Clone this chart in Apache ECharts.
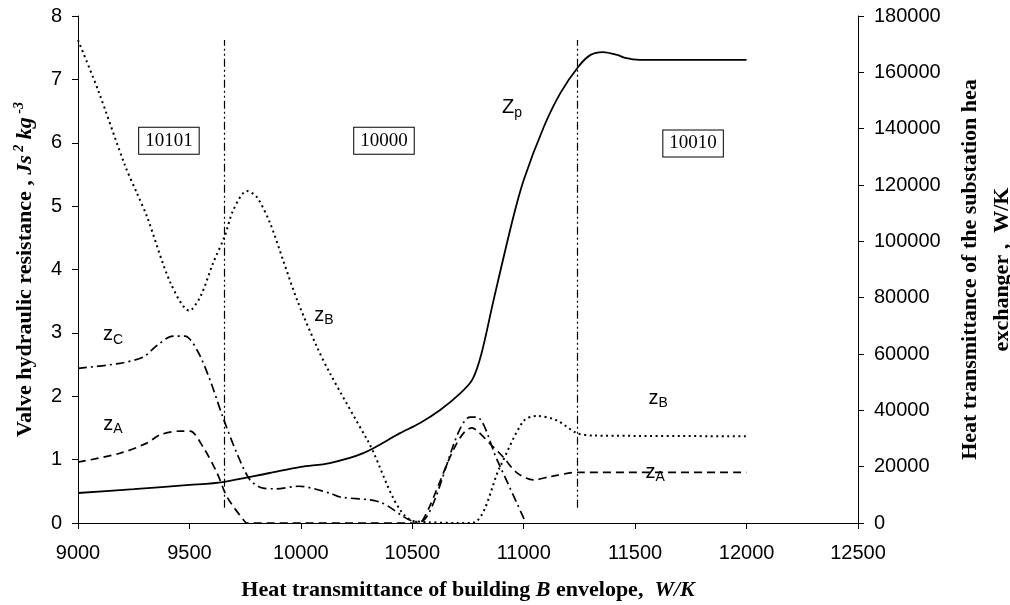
<!DOCTYPE html>
<html>
<head>
<meta charset="utf-8">
<script src="https://cdn.jsdelivr.net/npm/echarts@6/dist/echarts.min.js"></script>
<style>
  html, body { margin: 0; background: #fff; }
  #main { width: 1010px; height: 605px; }
</style>
</head>
<body>
<div id="main"></div>
<script>
// building B envelope heat transmittance, W/K (x) vs valve resistance (left) / exchanger transmittance (right)
const zpData = [
  [9000, 10650], [9250, 12000], [9500, 13500], [9650, 14550], [9860, 17750],
  [10000, 19900], [10130, 21300], [10280, 24800], [10445, 31900], [10535, 35500],
  [10625, 40100], [10715, 46000], [10770, 51000], [10810, 60000], [10865, 79200],
  [10950, 107600], [11000, 121800], [11090, 140600], [11165, 152700], [11245, 162000],
  [11300, 166200], [11355, 167200], [11420, 166200], [11455, 165100], [11520, 164400],
  [12000, 164400]
];
const zbData = [
  [9000, 7.62], [9090, 6.83], [9210, 5.65], [9265, 5.2], [9310, 4.83],
  [9415, 3.79], [9500, 3.35], [9550, 3.58], [9606, 4.1], [9660, 4.54],
  [9697, 4.94], [9758, 5.24], [9803, 5.14], [9862, 4.73], [9920, 4.15],
  [9983, 3.52], [10072, 2.78], [10131, 2.36], [10300, 1.3], [10508, 0.03],
  [10767, 0], [10893, 0.88], [10997, 1.6], [11058, 1.69], [11148, 1.62],
  [11238, 1.42], [11312, 1.38], [12000, 1.37]
];
const zcData = [
  [9000, 2.44], [9188, 2.52], [9293, 2.62], [9354, 2.8], [9426, 2.95],
  [9480, 2.95], [9534, 2.73], [9592, 2.26], [9650, 1.67], [9713, 1.1],
  [9772, 0.68], [9830, 0.55], [9890, 0.54], [9990, 0.58], [10131, 0.47],
  [10176, 0.41], [10355, 0.33], [10500, 0.03], [10535, 0.02], [10760, 1.67],
  [10790, 1.67], [10880, 1.0], [11006, 0.03]
];
const zaData = [
  [9000, 0.96], [9188, 1.1], [9309, 1.26], [9368, 1.39], [9458, 1.45],
  [9503, 1.45], [9561, 1.2], [9624, 0.79], [9669, 0.41], [9749, 0.02],
  [9760, 0], [10520, 0], [10543, 0.02], [10768, 1.5], [10863, 1.2],
  [10908, 1.04], [10970, 0.79], [11043, 0.68], [11118, 0.73], [11244, 0.8],
  [12000, 0.8]
];
// regime boundaries (x) and regime codes
const boundaryX = [9655, 11240];
const regimeNames = ["10101", "10000", "10010"];

const chart = echarts.init(document.getElementById("main"));

const sansFont = "Liberation Sans";
const serifFont = "Liberation Serif";

// label style for the curve names, z with a subscript
const noteLabel = {
  show: true,
  position: "inside",
  color: "#000",
  rich: {
    z: { fontFamily: sansFont, fontSize: 20, lineHeight: 24, color: "#000" },
    s: { fontFamily: sansFont, fontSize: 14, lineHeight: 14, verticalAlign: "bottom", color: "#000" }
  }
};
const note = (coord, main, sub) => ({
  coord: coord,
  label: { ...noteLabel, formatter: "{z|" + main + "}{s|" + sub + "}" }
});
const box = (coord, text) => ({
  coord: coord,
  label: {
    show: true,
    position: "inside",
    formatter: text,
    fontFamily: serifFont,
    fontSize: 19,
    color: "#000",
    backgroundColor: "#fff",
    borderColor: "#000",
    borderWidth: 1,
    padding: [4, 6, 3, 6]
  }
});
const markBase = { symbol: "circle", symbolSize: 0, silent: true };
const plainNumber = (v) => String(v);

const option = {
  animation: false,
  backgroundColor: "#fff",
  grid: { left: 78, right: 152, top: 16, bottom: 82, outerBoundsMode: "none", containLabel: false },
  xAxis: {
    type: "value",
    min: 9000,
    max: 12500,
    interval: 500,
    name: "Heat transmittance of building {i|B} envelope,  {i|W/K}",
    nameLocation: "middle",
    nameGap: 56,
    nameTextStyle: {
      fontFamily: serifFont,
      fontWeight: "bold",
      fontSize: 22,
      color: "#000",
      rich: {
        i: { fontFamily: serifFont, fontWeight: "bold", fontStyle: "italic", fontSize: 22, color: "#000" }
      }
    },
    axisLine: { lineStyle: { color: "#000", width: 1 } },
    axisTick: { length: 6, lineStyle: { color: "#000" } },
    axisLabel: { fontFamily: sansFont, fontSize: 20, color: "#000", margin: 20, formatter: plainNumber },
    splitLine: { show: false }
  },
  yAxis: [
    {
      type: "value",
      min: 0,
      max: 8,
      interval: 1,
      position: "left",
      name: "Valve hydraulic resistance , {i|Js}{sup| 2}{i| kg}{sup| -3}",
      nameLocation: "middle",
      nameGap: 40,
      nameRotate: 90,
      nameTextStyle: {
        fontFamily: serifFont,
        fontWeight: "bold",
        fontSize: 22,
        color: "#000",
        rich: {
          i: { fontFamily: serifFont, fontWeight: "bold", fontStyle: "italic", fontSize: 22, lineHeight: 26, color: "#000" },
          sup: { fontFamily: serifFont, fontWeight: "bold", fontStyle: "italic", fontSize: 14, lineHeight: 26, verticalAlign: "top", color: "#000" }
        }
      },
      axisLine: { show: true, lineStyle: { color: "#000", width: 1 } },
      axisTick: { show: true, length: 6, lineStyle: { color: "#000" } },
      axisLabel: { fontFamily: sansFont, fontSize: 20, color: "#000", margin: 16, formatter: plainNumber },
      splitLine: { show: false }
    },
    {
      type: "value",
      min: 0,
      max: 180000,
      interval: 20000,
      position: "right",
      name: "Heat transmittance of the substation hea\nexchanger ,  W/K",
      nameLocation: "middle",
      nameGap: 96,
      nameRotate: 90,
      nameTextStyle: {
        fontFamily: serifFont,
        fontWeight: "bold",
        fontSize: 22,
        lineHeight: 32,
        color: "#000"
      },
      axisLine: { show: true, lineStyle: { color: "#000", width: 1 } },
      axisTick: { show: true, length: 6, lineStyle: { color: "#000" } },
      axisLabel: { fontFamily: sansFont, fontSize: 20, color: "#000", margin: 16, formatter: plainNumber },
      splitLine: { show: false }
    }
  ],
  series: [
    {
      name: "Zp",
      type: "line",
      yAxisIndex: 1,
      data: zpData,
      smooth: 0.3,
      showSymbol: false,
      lineStyle: { color: "#000", width: 1.8, type: "solid" },
      markPoint: { ...markBase, data: [note([10948, 147400], "Z", "p")] }
    },
    {
      name: "zB",
      type: "line",
      data: zbData,
      smooth: 0.3,
      showSymbol: false,
      lineStyle: { color: "#000", width: 2, type: [2, 3.5] },
      markPoint: {
        ...markBase,
        data: [note([10104, 3.28], "z", "B"), note([11603, 1.97], "z", "B")]
      }
    },
    {
      name: "zC",
      type: "line",
      data: zcData,
      smooth: 0.3,
      showSymbol: false,
      lineStyle: { color: "#000", width: 1.7, type: [9, 4, 2, 4] },
      markPoint: { ...markBase, data: [note([9157, 2.97], "z", "C")] }
    },
    {
      name: "zA",
      type: "line",
      data: zaData,
      smooth: 0.3,
      showSymbol: false,
      lineStyle: { color: "#000", width: 1.7, type: [8, 5] },
      markPoint: {
        ...markBase,
        data: [note([9157, 1.56], "z", "A"), note([11590, 0.8], "z", "A")]
      }
    },
    {
      name: "regimes",
      type: "line",
      data: [],
      markLine: {
        silent: true,
        symbol: "none",
        label: { show: false },
        lineStyle: { color: "#000", width: 1.2, type: [8, 3, 2, 3, 2, 3] },
        data: boundaryX.map((x) => [{ coord: [x, 0.24] }, { coord: [x, 7.62] }])
      },
      markPoint: {
        ...markBase,
        data: [
          box([9408, 6.03], regimeNames[0]),
          box([10373, 6.03], regimeNames[1]),
          box([11760, 5.99], regimeNames[2])
        ]
      }
    }
  ]
};

chart.setOption(option);
</script>
</body>
</html>
